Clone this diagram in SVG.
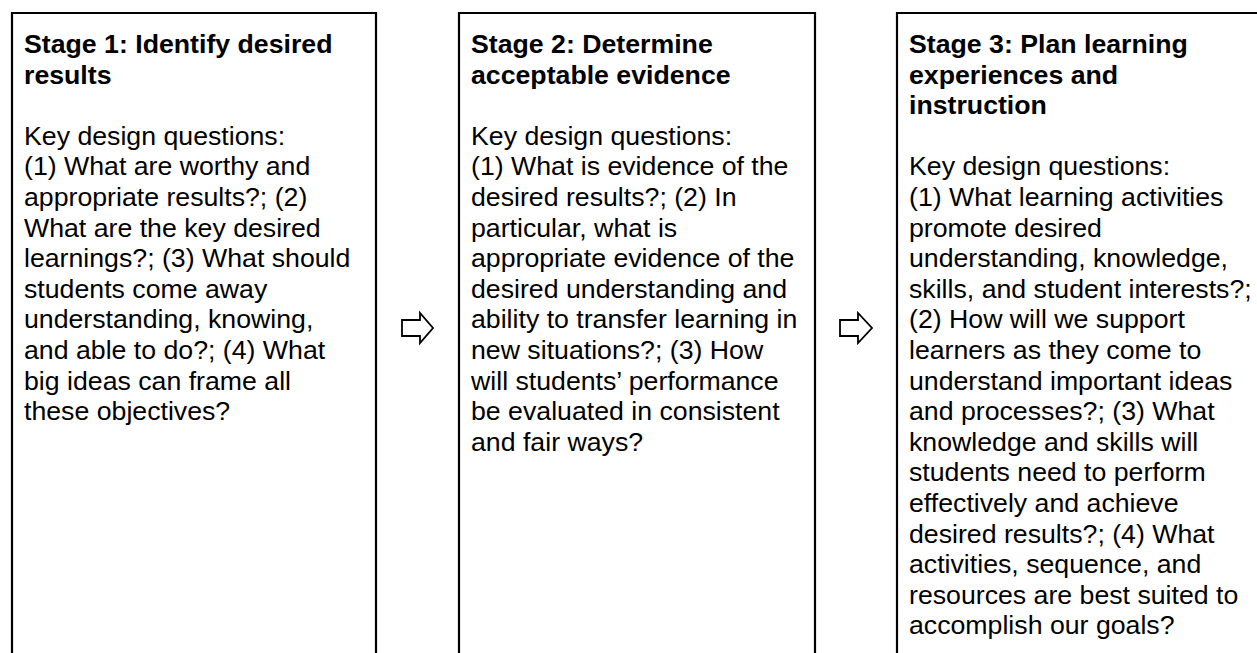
<svg xmlns="http://www.w3.org/2000/svg" width="1257" height="653" viewBox="0 0 1257 653">
<style>
.box{fill:none;stroke:#000;stroke-width:2.2}
.arrow{fill:#fff;stroke:#000;stroke-width:1.8;stroke-linejoin:miter}
text{font-family:"Liberation Sans",Arial,sans-serif;font-size:26.7px;fill:#000}
.t{font-weight:bold}
</style>
<rect width="1257" height="653" fill="#fff"/>
<g id="stage1">
<path class="box" d="M12,660 V13 H376 V660"/>
<text x="24">
<tspan class="t" x="24" y="53">Stage 1: Identify desired</tspan>
<tspan class="t" x="24" y="83.6">results</tspan>
<tspan x="24" y="144.8">Key design questions:</tspan>
<tspan x="24" y="175.4">(1) What are worthy and</tspan>
<tspan x="24" y="206">appropriate results?; (2)</tspan>
<tspan x="24" y="236.6">What are the key desired</tspan>
<tspan x="24" y="267.2">learnings?; (3) What should</tspan>
<tspan x="24" y="297.8">students come away</tspan>
<tspan x="24" y="328.4">understanding, knowing,</tspan>
<tspan x="24" y="359">and able to do?; (4) What</tspan>
<tspan x="24" y="389.6">big ideas can frame all</tspan>
<tspan x="24" y="420.2">these objectives?</tspan>
</text>
</g>
<g id="stage2">
<path class="box" d="M459,660 V13 H815 V660"/>
<text x="471">
<tspan class="t" x="471" y="53">Stage 2: Determine</tspan>
<tspan class="t" x="471" y="83.6">acceptable evidence</tspan>
<tspan x="471" y="144.8">Key design questions:</tspan>
<tspan x="471" y="175.4">(1) What is evidence of the</tspan>
<tspan x="471" y="206">desired results?; (2) In</tspan>
<tspan x="471" y="236.6">particular, what is</tspan>
<tspan x="471" y="267.2">appropriate evidence of the</tspan>
<tspan x="471" y="297.8">desired understanding and</tspan>
<tspan x="471" y="328.4">ability to transfer learning in</tspan>
<tspan x="471" y="359">new situations?; (3) How</tspan>
<tspan x="471" y="389.6">will students’ performance</tspan>
<tspan x="471" y="420.2">be evaluated in consistent</tspan>
<tspan x="471" y="450.8">and fair ways?</tspan>
</text>
</g>
<g id="stage3">
<path class="box" d="M897,660 V13 H1270"/>
<text x="909">
<tspan class="t" x="909" y="53">Stage 3: Plan learning</tspan>
<tspan class="t" x="909" y="83.6">experiences and</tspan>
<tspan class="t" x="909" y="114.2">instruction</tspan>
<tspan x="909" y="175.4">Key design questions:</tspan>
<tspan x="909" y="206">(1) What learning activities</tspan>
<tspan x="909" y="236.6">promote desired</tspan>
<tspan x="909" y="267.2">understanding, knowledge,</tspan>
<tspan x="909" y="297.8">skills, and student interests?;</tspan>
<tspan x="909" y="328.4">(2) How will we support</tspan>
<tspan x="909" y="359">learners as they come to</tspan>
<tspan x="909" y="389.6">understand important ideas</tspan>
<tspan x="909" y="420.2">and processes?; (3) What</tspan>
<tspan x="909" y="450.8">knowledge and skills will</tspan>
<tspan x="909" y="481.4">students need to perform</tspan>
<tspan x="909" y="512">effectively and achieve</tspan>
<tspan x="909" y="542.6">desired results?; (4) What</tspan>
<tspan x="909" y="573.2">activities, sequence, and</tspan>
<tspan x="909" y="603.8">resources are best suited to</tspan>
<tspan x="909" y="634.4">accomplish our goals?</tspan>
</text>
</g>
<g id="connectors">
<path class="arrow" d="M402,320 H420 V313 L433,328 L420,343 V336 H402 Z"/>
<path class="arrow" d="M840,320 H858 V313 L872,328 L858,343 V336 H840 Z"/>
</g>
</svg>
